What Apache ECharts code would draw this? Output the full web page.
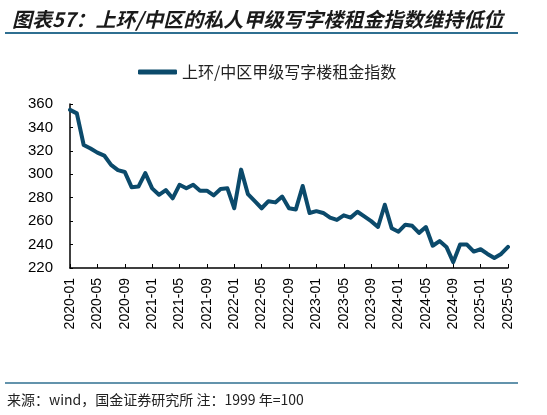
<!DOCTYPE html>
<html>
<head>
<meta charset="utf-8">
<script src="https://cdn.jsdelivr.net/npm/echarts@6/dist/echarts.min.js"></script>
<style>
html,body{margin:0;padding:0;background:#fff;}
#chart{width:547px;height:415px;}
</style>
</head>
<body>
<div id="chart"></div>
<script>
const titleText = '图表57：上环/中区的私人甲级写字楼租金指数维持低位';
const sourceText = '来源：wind，国金证券研究所 注：1999 年=100';
const seriesName = '上环/中区甲级写字楼租金指数';

const months = [];
for (let y = 2020; y <= 2025; y++) {
  for (let m = 1; m <= 12; m++) {
    if (y === 2025 && m > 5) break;
    months.push(y + '-' + (m < 10 ? '0' + m : m));
  }
}

const rentIndex = [
  355, 352, 325, 322, 318.5, 316, 308, 303.5, 302, 289, 289.5, 301,
  288, 282.5, 286.5, 279.5, 291, 288, 291, 286, 286, 282, 287.5, 288,
  271, 304, 283, 277, 271, 277, 276, 281, 271, 270, 290, 267,
  268.5, 267, 263, 261, 265, 263, 268, 264, 260, 255, 274, 254,
  251, 257, 256, 250, 255, 239, 243, 238, 225, 240, 240, 234,
  236, 232, 228.5, 232, 238
];

const yTicks = { min: 220, max: 360, step: 20 };

const chart = echarts.init(document.getElementById('chart'));
const ruleColor = '#2f6f91';
chart.setOption({
  animation: false,
  backgroundColor: '#fff',
  title: {
    text: titleText,
    left: 7, top: 4,
    textStyle: { fontSize: 20, fontWeight: 'bold', fontStyle: 'italic', color: '#1a1a1a',
      fontFamily: '"Noto Sans CJK SC", sans-serif' }
  },
  legend: {
    data: [seriesName],
    left: 133, top: 59,
    icon: 'roundRect',
    itemWidth: 39, itemHeight: 5,
    textStyle: { fontSize: 16, color: '#222', fontFamily: '"Noto Sans CJK SC", sans-serif' }
  },
  graphic: [
    { type: 'line', shape: { x1: 5, y1: 33, x2: 518, y2: 33 }, style: { stroke: ruleColor, lineWidth: 2 } },
    { type: 'line', shape: { x1: 5, y1: 383, x2: 518, y2: 383 }, style: { stroke: ruleColor, lineWidth: 1.5 } },
    { type: 'text', left: 7, top: 393, style: { text: sourceText, fontSize: 14, fill: '#222',
      fontFamily: '"Noto Sans CJK SC", sans-serif' } }
  ],
  grid: { left: 70, right: 39, top: 104, bottom: 147, containLabel: false },
  xAxis: {
    type: 'category',
    data: months,
    boundaryGap: false,
    axisLine: { lineStyle: { color: '#000', width: 1.5 } },
    axisTick: { inside: true, length: 4, interval: 3, lineStyle: { color: '#000' } },
    axisLabel: { interval: 3, rotate: 90, fontSize: 14, color: '#000', margin: 10,
      fontFamily: 'Liberation Sans, Arial, sans-serif' },
    splitLine: { show: false }
  },
  yAxis: {
    type: 'value',
    min: yTicks.min, max: yTicks.max, interval: yTicks.step,
    axisLine: { show: true, lineStyle: { color: '#000', width: 1.5 } },
    axisTick: { show: true, inside: true, length: 3, lineStyle: { color: '#000' } },
    axisLabel: { fontSize: 15, color: '#000', margin: 17,
      fontFamily: 'Liberation Sans, Arial, sans-serif' },
    splitLine: { show: false }
  },
  series: [{
    name: seriesName,
    type: 'line',
    data: rentIndex,
    showSymbol: false,
    symbol: 'none',
    lineStyle: { color: '#0b4a6b', width: 4, join: 'round', cap: 'round' },
    itemStyle: { color: '#0b4a6b' }
  }]
});
</script>
</body>
</html>
